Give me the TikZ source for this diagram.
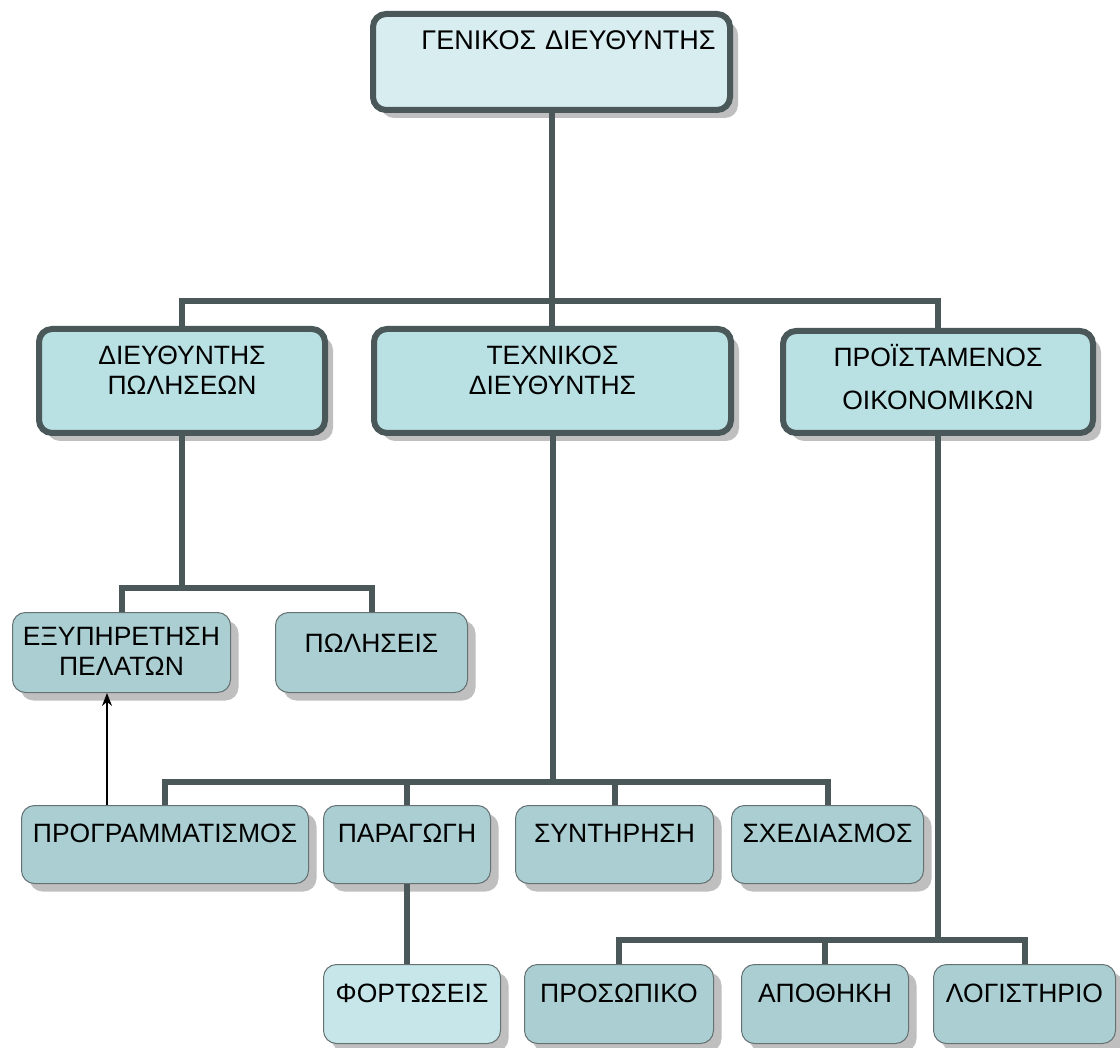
\documentclass[tikz,border=0pt]{standalone}
\usepackage{fontspec}
\setmainfont{Liberation Sans}
\usetikzlibrary{shadows, arrows.meta}
\definecolor{framec}{HTML}{4A585A}
\definecolor{headc}{HTML}{D7EDF0}
\definecolor{chiefc}{HTML}{B9E0E3}
\definecolor{unitc}{HTML}{AACED1}
\definecolor{lightc}{HTML}{C7E6EA}
\tikzstyle{orgbox} = [rectangle, rounded corners=13pt, anchor=north west, inner sep=0pt, align=center, font=\fontsize{26.5}{30}\selectfont, general shadow={fill=gray!50, shadow xshift=8pt, shadow yshift=-8pt}]
\tikzstyle{head} = [orgbox, draw=framec, line width=6pt, fill=headc, font=\fontsize{27}{30}\selectfont]
\tikzstyle{chief} = [orgbox, draw=framec, line width=6pt, fill=chiefc]
\tikzstyle{unit} = [orgbox, draw=framec!85, line width=1pt, fill=unitc]
\tikzstyle{link} = [draw=framec, line width=6pt]
\tikzstyle{arrow} = [line width=1.5pt, ->, >={Stealth[length=13pt, width=10pt]}]

\begin{document}
\begin{tikzpicture}[x=1pt, y=-1pt]
	\useasboundingbox (0,0) rectangle (1120,1048);
	% top
	\node (gen) [head, text width=357pt, text height=36pt, text depth=60pt] at (370,11) {\hspace*{34pt}ΓΕΝΙΚΟΣ ΔΙΕΥΘΥΝΤΗΣ};
	% directors
	\node (salesdir) [chief, text width=286pt, text height=36pt, text depth=68pt] at (36,326) {ΔΙΕΥΘΥΝΤΗΣ\\ΠΩΛΗΣΕΩΝ};
	\node (techdir) [chief, text width=357pt, text height=36pt, text depth=68pt] at (371,326) {ΤΕΧΝΙΚΟΣ\\ΔΙΕΥΘΥΝΤΗΣ};
	\node (findir) [chief, text width=310pt, text height=36pt, text depth=66pt] at (780,328) {ΠΡΟΪΣΤΑΜΕΝΟΣ\\[13pt]ΟΙΚΟΝΟΜΙΚΩΝ};
	% sales
	\node (custsvc) [unit, text width=218pt, text height=33pt, text depth=47pt] at (12,612) {ΕΞΥΠΗΡΕΤΗΣΗ\\ΠΕΛΑΤΩΝ};
	\node (sales) [unit, text width=192pt, text height=40pt, text depth=40pt] at (275,612) {ΠΩΛΗΣΕΙΣ};
	% technical
	\node (prog) [unit, text width=287pt, text height=37pt, text depth=41pt] at (21,805) {ΠΡΟΓΡΑΜΜΑΤΙΣΜΟΣ};
	\node (prod) [unit, text width=167pt, text height=37pt, text depth=41pt] at (323,805) {ΠΑΡΑΓΩΓΗ};
	\node (maint) [unit, text width=198pt, text height=37pt, text depth=41pt] at (515,805) {ΣΥΝΤΗΡΗΣΗ};
	\node (design) [unit, text width=192pt, text height=37pt, text depth=41pt] at (731,805) {ΣΧΕΔΙΑΣΜΟΣ};
	\node (loads) [unit, fill=lightc, text width=177pt, text height=38pt, text depth=41pt] at (323,964) {ΦΟΡΤΩΣΕΙΣ};
	% finance
	\node (staff) [unit, text width=189pt, text height=38pt, text depth=41pt] at (524,964) {ΠΡΟΣΩΠΙΚΟ};
	\node (store) [unit, text width=167pt, text height=38pt, text depth=41pt] at (741,964) {ΑΠΟΘΗΚΗ};
	\node (acct) [unit, text width=182pt, text height=38pt, text depth=41pt] at (933,964) {ΛΟΓΙΣΤΗΡΙΟ};

	\coordinate (bus2) at (salesdir.south |- 0,588);
	\coordinate (bus3) at (techdir.south |- 0,782);
	\coordinate (bus4) at (findir.south |- 0,940);
	\coordinate (fb) at (107,0);

	\draw [link] (gen.south) -- (gen.south |- techdir.north);
	\draw [link] (salesdir.north) -- ++(0,-25) -| (findir.north);
	\draw [link] (salesdir.south) -- (bus2);
	\draw [link] (custsvc.north) |- (bus2) -| (sales.north);
	\draw [link] (techdir.south) -- (bus3);
	\draw [link] (prog.north) |- (bus3) -| (design.north);
	\draw [link] (prod.north) -- (prod.north |- bus3);
	\draw [link] (maint.north) -- (maint.north |- bus3);
	\draw [link] (prod.south) -- (prod.south |- loads.north);
	\draw [link] (findir.south) -- (bus4);
	\draw [link] (staff.north) |- (bus4) -| (acct.north);
	\draw [link] (store.north) -- (store.north |- bus4);
	\draw [arrow] (prog.north -| fb) -- (custsvc.south -| fb);
\end{tikzpicture}
\end{document}
